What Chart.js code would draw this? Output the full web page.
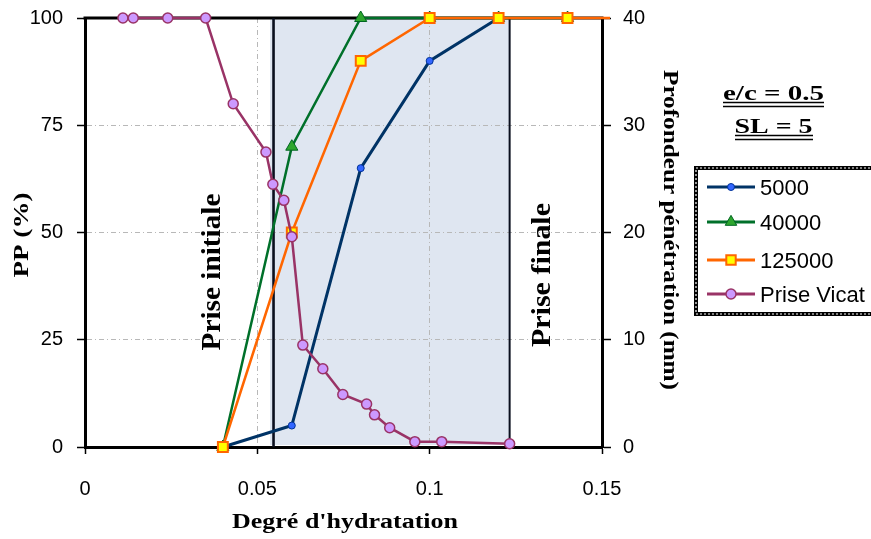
<!DOCTYPE html>
<html>
<head>
<meta charset="utf-8">
<script src="https://cdn.jsdelivr.net/npm/chart.js@4.4.1/dist/chart.umd.min.js"></script>
<style>
html,body{margin:0;padding:0;background:#fff;overflow:hidden;}
#wrap{width:871px;height:539px;position:relative;}
</style>
</head>
<body>
<div id="wrap"><canvas id="c" width="871" height="539"></canvas></div>
<script>
// ---- Data ----
const x5000 = [0.04, 0.06, 0.08, 0.10, 0.12];
const pp5000 = [0, 5, 65, 90, 100];
const x40000 = [0.04, 0.06, 0.08, 0.10, 0.12, 0.14];
const pp40000 = [0, 70, 100, 100, 100, 100];
const x125000 = [0.04, 0.06, 0.08, 0.10, 0.12, 0.14, 0.16];
const pp125000 = [0, 50, 90, 100, 100, 100, 100];
const xVicat = [0.011, 0.014, 0.024, 0.035, 0.043, 0.0525, 0.0545, 0.0577, 0.060, 0.0632, 0.069, 0.0748, 0.0817, 0.084, 0.0884, 0.0957, 0.1035, 0.1232];
const penVicat = [40, 40, 40, 40, 32, 27.5, 24.5, 23.0, 19.6, 9.5, 7.3, 4.9, 4.0, 3.0, 1.8, 0.5, 0.5, 0.3];

const seriesLabels = ['5000', '40000', '125000', 'Prise Vicat'];
const xTickValues = [0, 0.05, 0.1, 0.15];
const xTickLabels = ['0', '0.05', '0.1', '0.15'];
const yTickValues = [0, 25, 50, 75, 100];
const yTickLabels = ['0', '25', '50', '75', '100'];
const y1TickValues = [0, 10, 20, 30, 40];
const y1TickLabels = ['0', '10', '20', '30', '40'];

const shadeStart = 0.0537;
const priseInitiale = 0.0547;
const priseFinale = 0.1232;

const xTitle = "Degré d'hydratation";
const yTitle = 'PP (%)';
const y1Title = 'Profondeur pénétration (mm)';
const noteLine1 = 'e/c = 0.5';
const noteLine2 = 'SL = 5';
const labelInitiale = 'Prise initiale';
const labelFinale = 'Prise finale';

// ---- Helpers ----
const pts = (xs, ys) => xs.map((x, i) => ({x: x, y: ys[i]}));
const SANS = '"Liberation Sans", Arial, sans-serif';
const SERIF = '"Liberation Serif", "Times New Roman", serif';

function fitText(ctx, text, cx, baseY, rot, font, len, color) {
  ctx.save();
  ctx.font = font;
  const w = ctx.measureText(text).width;
  ctx.translate(cx, baseY);
  ctx.rotate(rot);
  ctx.scale(len / w, 1);
  ctx.textAlign = 'center';
  ctx.textBaseline = 'alphabetic';
  ctx.fillStyle = color || '#000';
  ctx.fillText(text, 0, 0);
  ctx.restore();
}

function marker(ctx, style, x, y, r, fill, stroke, bw) {
  ctx.save();
  ctx.beginPath();
  if (style === 'circle') {
    ctx.arc(x, y, r, 0, Math.PI * 2);
  } else if (style === 'triangle') {
    ctx.moveTo(x, y - r);
    ctx.lineTo(x + r * 0.866, y + r * 0.5);
    ctx.lineTo(x - r * 0.866, y + r * 0.5);
    ctx.closePath();
  } else if (style === 'rect') {
    const s = r * Math.SQRT1_2;
    ctx.rect(x - s, y - s, 2 * s, 2 * s);
  }
  ctx.fillStyle = fill;
  ctx.fill();
  ctx.lineWidth = bw;
  ctx.strokeStyle = stroke;
  ctx.stroke();
  ctx.restore();
}

const datasets = [
  {label: seriesLabels[0], data: pts(x5000, pp5000), yAxisID: 'y', showLine: true,
   borderColor: '#003366', borderWidth: 3, pointStyle: 'circle', pointRadius: 3.5,
   pointBackgroundColor: '#3366FF', pointBorderColor: '#003399', pointBorderWidth: 1, order: 4},
  {label: seriesLabels[1], data: pts(x40000, pp40000), yAxisID: 'y', showLine: true,
   borderColor: '#00702A', borderWidth: 2.5, pointStyle: 'triangle', pointRadius: 7,
   pointBackgroundColor: '#2EA62E', pointBorderColor: '#006622', pointBorderWidth: 1, order: 3},
  {label: seriesLabels[2], data: pts(x125000, pp125000), yAxisID: 'y', showLine: true,
   borderColor: '#FF6600', borderWidth: 2.5, pointStyle: 'rect', pointRadius: 7,
   pointBackgroundColor: '#FFFF00', pointBorderColor: '#FF6600', pointBorderWidth: 2, order: 2},
  {label: seriesLabels[3], data: pts(xVicat, penVicat), yAxisID: 'y1', showLine: true,
   borderColor: '#993366', borderWidth: 2.5, pointStyle: 'circle', pointRadius: 5,
   pointBackgroundColor: '#CC99FF', pointBorderColor: '#993366', pointBorderWidth: 1.5, order: 1}
];
datasets.forEach(d => { d.clip = {left: 10, top: 12, right: 8, bottom: 10}; d.tension = 0; d.pointHoverRadius = d.pointRadius; });

const decor = {
  id: 'decor',
  beforeDraw(chart) {
    const {ctx, chartArea: a, scales: {x}} = chart;
    ctx.save();
    ctx.fillStyle = '#fff';
    ctx.fillRect(0, 0, chart.width, chart.height);
    ctx.fillStyle = '#DFE6F1';
    const x0 = x.getPixelForValue(shadeStart), x1 = x.getPixelForValue(priseFinale);
    ctx.fillRect(x0, a.top, x1 - x0, a.bottom - a.top - 2);
    ctx.restore();
  },
  beforeDatasetsDraw(chart) {
    const {ctx, chartArea: a, scales: {x}} = chart;
    ctx.save();
    ctx.strokeStyle = '#000';
    ctx.lineWidth = 3;
    ctx.beginPath();
    ctx.moveTo(a.left - 1.5, a.top); ctx.lineTo(a.right + 1.5, a.top);
    ctx.stroke();
    ctx.strokeStyle = '#0a0f1e';
    ctx.lineWidth = 2.6;
    const xi = x.getPixelForValue(priseInitiale);
    ctx.beginPath(); ctx.moveTo(xi, a.top); ctx.lineTo(xi, a.bottom); ctx.stroke();
    ctx.lineWidth = 2;
    const xf = x.getPixelForValue(priseFinale);
    ctx.beginPath(); ctx.moveTo(xf, a.top); ctx.lineTo(xf, a.bottom); ctx.stroke();
    ctx.restore();
    fitText(ctx, labelInitiale, 220, 272, -Math.PI / 2, 'bold 27px ' + SERIF, 157);
    fitText(ctx, labelFinale, 550, 275, -Math.PI / 2, 'bold 27px ' + SERIF, 144);
  },
  afterDraw(chart) {
    const {ctx} = chart;
    fitText(ctx, yTitle, 28, 235, -Math.PI / 2, 'bold 20px ' + SERIF, 85);
    fitText(ctx, y1Title, 664, 230, Math.PI / 2, 'bold 20px ' + SERIF, 320);
    fitText(ctx, xTitle, 345, 528, 0, 'bold 20px ' + SERIF, 226);

    fitText(ctx, noteLine1, 773.5, 100, 0, 'bold 20px ' + SERIF, 101);
    fitText(ctx, noteLine2, 773.5, 133, 0, 'bold 20px ' + SERIF, 78);
    ctx.save();
    ctx.strokeStyle = '#000'; ctx.lineWidth = 1.5;
    [[723, 824, 102.5], [723, 824, 106.5], [735, 813, 135.5], [735, 813, 139.5]].forEach(l => {
      ctx.beginPath(); ctx.moveTo(l[0], l[2]); ctx.lineTo(l[1], l[2]); ctx.stroke();
    });
    ctx.restore();

    ctx.save();
    ctx.strokeStyle = '#000'; ctx.lineWidth = 4;
    ctx.strokeRect(696, 168, 200, 146);
    ctx.strokeStyle = '#fff'; ctx.lineWidth = 1.2; ctx.setLineDash([2, 2]);
    ctx.strokeRect(696, 168, 200, 146);
    ctx.setLineDash([]);
    const rows = [187, 222, 260, 294];
    chart.data.datasets.forEach((d, i) => {
      const y = rows[i];
      ctx.strokeStyle = d.borderColor; ctx.lineWidth = 3;
      ctx.beginPath(); ctx.moveTo(707, y); ctx.lineTo(755, y); ctx.stroke();
      const r = d.pointStyle === 'circle' ? d.pointRadius : d.pointRadius * 0.95;
      marker(ctx, d.pointStyle, 731, y, r, d.pointBackgroundColor, d.pointBorderColor, d.pointBorderWidth);
      ctx.fillStyle = '#000';
      ctx.font = '22px ' + SANS;
      ctx.textAlign = 'left'; ctx.textBaseline = 'alphabetic';
      ctx.fillText(d.label, 760, y + 8);
    });
    ctx.restore();
  }
};

const tickFont = {family: SANS, size: 20};
const noPadY = s => { s.paddingTop = 0; s.paddingBottom = 0; };

new Chart(document.getElementById('c'), {
  type: 'scatter',
  data: {datasets: datasets},
  options: {
    responsive: false,
    animation: false,
    events: [],
    layout: {padding: {top: 18, left: 0, right: 0, bottom: 0}},
    plugins: {legend: {display: false}, tooltip: {enabled: false}, title: {display: false}},
    scales: {
      x: {
        type: 'linear', min: 0, max: 0.15, position: 'bottom',
        afterFit: s => { s.height = 92; s.paddingLeft = 0; s.paddingRight = 0; },
        afterBuildTicks: s => { s.ticks = xTickValues.map(v => ({value: v})); },
        ticks: {callback: (v, i) => xTickLabels[i], font: tickFont, color: '#000', padding: 23, maxRotation: 0, autoSkip: false},
        grid: {color: '#B8B8B8', lineWidth: 1, tickColor: '#000', tickLength: 7, tickWidth: 1.5},
        border: {color: '#000', width: 3, dash: [5, 3, 1, 3]}
      },
      y: {
        type: 'linear', min: 0, max: 100, position: 'left',
        afterFit: s => { s.width = 85; noPadY(s); },
        afterBuildTicks: s => { s.ticks = yTickValues.map(v => ({value: v})); },
        ticks: {callback: (v, i) => yTickLabels[i], font: tickFont, color: '#000', padding: 14},
        grid: {color: '#B8B8B8', lineWidth: 1, tickColor: '#000', tickLength: 8, tickWidth: 1.5},
        border: {color: '#000', width: 3, dash: [5, 3, 1, 3]}
      },
      y1: {
        type: 'linear', min: 0, max: 40, position: 'right',
        afterFit: s => { s.width = 269; noPadY(s); },
        afterBuildTicks: s => { s.ticks = y1TickValues.map(v => ({value: v})); },
        ticks: {callback: (v, i) => y1TickLabels[i], font: tickFont, color: '#000', padding: 12},
        grid: {drawOnChartArea: false, tickColor: '#000', tickLength: 9, tickWidth: 1.5},
        border: {color: '#000', width: 3}
      }
    }
  },
  plugins: [decor]
});
</script>
</body>
</html>
